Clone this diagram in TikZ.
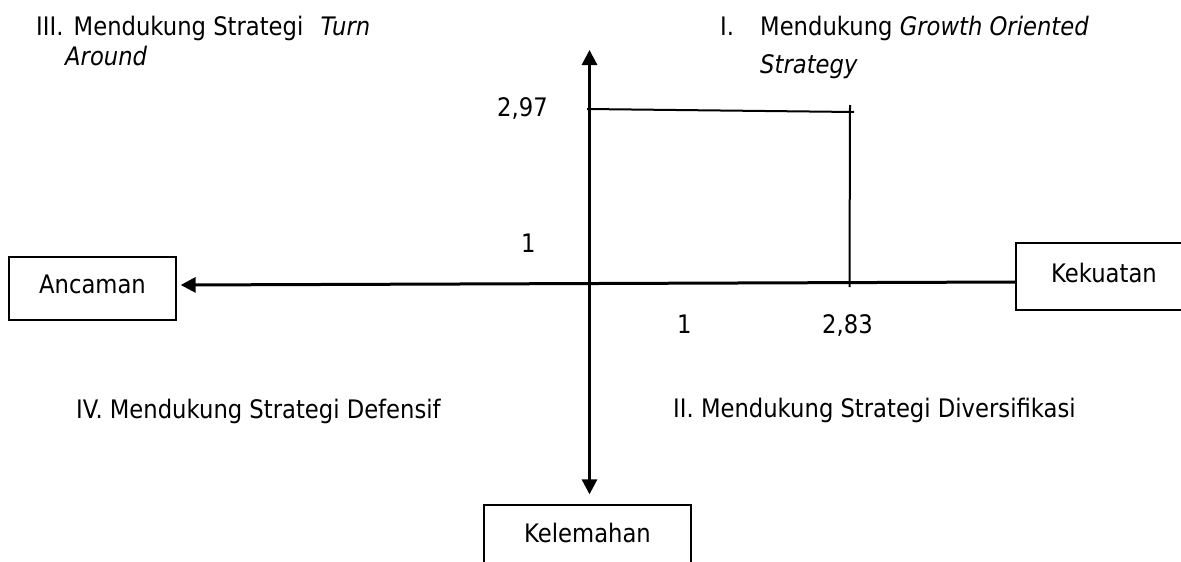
\documentclass[tikz,border=0pt]{standalone}
\usepackage{fontspec}
\setmainfont{DejaVu Sans}[FakeStretch=0.89]
\usetikzlibrary{arrows.meta}
\begin{document}
\begin{tikzpicture}[x=1pt,y=-1pt,
  lbl/.style={inner sep=0pt, anchor=base west, font=\fontsize{25.5pt}{30pt}\selectfont},
  box/.style={draw, line width=1.3pt, inner sep=0pt, font=\fontsize{25.5pt}{30pt}\selectfont},
  axisline/.style={line width=3pt},
  tip/.style={-{Triangle[length=15pt,width=15pt]}},
  thinline/.style={line width=2pt}]
\useasboundingbox (0,0) rectangle (1181,562);
% boxes
\node[box, minimum width=167pt, minimum height=63pt, text height=15pt, text depth=6pt] (anc) at (92.5,288.5) {Ancaman};
\node[box, minimum width=176pt, minimum height=67pt, text height=17pt, text depth=6pt] (kek) at (1104,276.5) {Kekuatan};
\node[box, minimum width=207pt, minimum height=63pt, text height=17pt, text depth=6pt] (kel) at (587.5,536.5) {Kelemahan};
% axes
\coordinate (vt) at (589.5,50);
\coordinate (vb) at ([yshift=10pt]kel.north -| vt);
\draw[axisline, {Triangle[length=15pt,width=15pt]}-{Triangle[length=15pt,width=15pt]}] (vt) -- (vb);
\coordinate (hr) at ([yshift=-5.5pt]kek.west);
\coordinate (hl) at ([xshift=4pt,yshift=3.5pt]anc.east);
\draw[axisline, tip] (hr) -- (hl);
% position lines
\coordinate (p1) at (587,109);
\coordinate (p2) at (854,112);
\coordinate (p3) at (850,105);
\coordinate (p4) at (849.5,287);
\draw[thinline] (p1) -- (p2);
\draw[thinline] (p3) -- (p4);
% labels
\node[lbl] (t3a) at (36,35) {III.\hspace{3pt} Mendukung Strategi\hspace{10pt} \textit{Turn}};
\node[lbl] (t3b) at (65,65) {\textit{Around}};
\node[lbl] (t1a) at (720,35) {\makebox[40pt][l]{I.}Mendukung \textit{Growth Oriented}};
\node[lbl] (t1b) at (760,73) {\textit{Strategy}};
\node[lbl] (v297) at (497,116) {2,97};
\node[lbl] (o1) at (521,252) {1};
\node[lbl] (o2) at (677,333) {1};
\node[lbl] (v283) at (822,333) {2,83};
\node[lbl] (t4) at (76,418) {IV. Mendukung Strategi Defensif};
\node[lbl] (t2) at (673,417) {II. Mendukung Strategi Diversifikasi};
\end{tikzpicture}
\end{document}
